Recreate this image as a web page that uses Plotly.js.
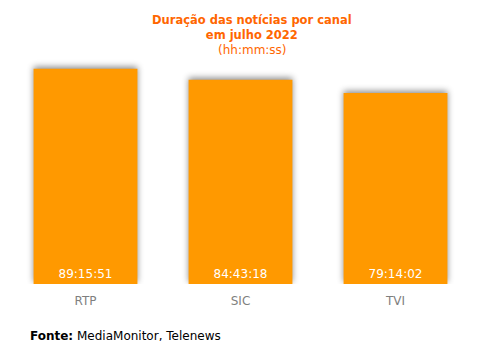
<!DOCTYPE html>
<html>
<head>
<meta charset="utf-8">
<script src="https://cdn.plot.ly/plotly-3.0.1.min.js"></script>
<style>
html,body{margin:0;padding:0;background:#fff;}
#chart{width:484px;height:357px;}
#chart .bars .point path{filter:drop-shadow(0px -2px 3px rgba(0,0,0,0.45));}
</style>
</head>
<body>
<div id="chart"></div>
<script>
const channels = ["RTP", "SIC", "TVI"];
const durations = ["89:15:51", "84:43:18", "79:14:02"];
const titleLines = ["Duração das notícias por canal", "em julho 2022"];
const subtitle = "(hh:mm:ss)";
const sourceText = "<b>Fonte:</b> MediaMonitor, Telenews";

function toHours(s){
  const p = s.split(":").map(Number);
  return p[0] + p[1]/60 + p[2]/3600;
}
const hours = durations.map(toHours);

const FONT = "DejaVu Sans, Tahoma, sans-serif";

const trace = {
  type: "bar",
  x: channels,
  y: hours,
  text: durations,
  textposition: "inside",
  insidetextanchor: "start",
  textangle: 0,
  textfont: {family: FONT, size: 12, color: "#ffffff"},
  marker: {color: "#FF9900", line: {width: 0}},
  hoverinfo: "none"
};

const titleX = (252 - 8) / 465;

const layout = {
  width: 484, height: 357,
  margin: {l: 8, r: 11, t: 43, b: 73},
  paper_bgcolor: "#ffffff",
  plot_bgcolor: "#ffffff",
  bargap: 0.33,
  showlegend: false,
  xaxis: {
    showgrid: false, zeroline: false, showline: false,
    ticks: "outside", ticklen: 6, tickcolor: "rgba(0,0,0,0)",
    tickfont: {family: FONT, size: 12, color: "#7f7f7f"}
  },
  yaxis: {
    range: [0, 100], visible: false, showgrid: false, zeroline: false
  },
  annotations: [
    {
      xref: "paper", yref: "paper", x: titleX, y: 1,
      xanchor: "center", yanchor: "middle", yshift: 15.5, borderpad: 0,
      showarrow: false,
      text: "<b>" + titleLines.join("<br>") + "</b>",
      font: {family: FONT, size: 11.5, color: "#FF6600"}
    },
    {
      xref: "paper", yref: "paper", x: titleX, y: 1,
      xanchor: "center", yanchor: "middle", yshift: -7, borderpad: 0,
      showarrow: false,
      text: subtitle,
      font: {family: FONT, size: 12, color: "#FF6600"}
    },
    {
      xref: "paper", yref: "paper",
      x: 20/465, y: -0.215,
      xanchor: "left", yanchor: "middle",
      showarrow: false,
      text: sourceText,
      font: {family: FONT, size: 12, color: "#000000"}
    }
  ]
};

Plotly.newPlot("chart", [trace], layout, {displayModeBar: false, staticPlot: true});
</script>
</body>
</html>
